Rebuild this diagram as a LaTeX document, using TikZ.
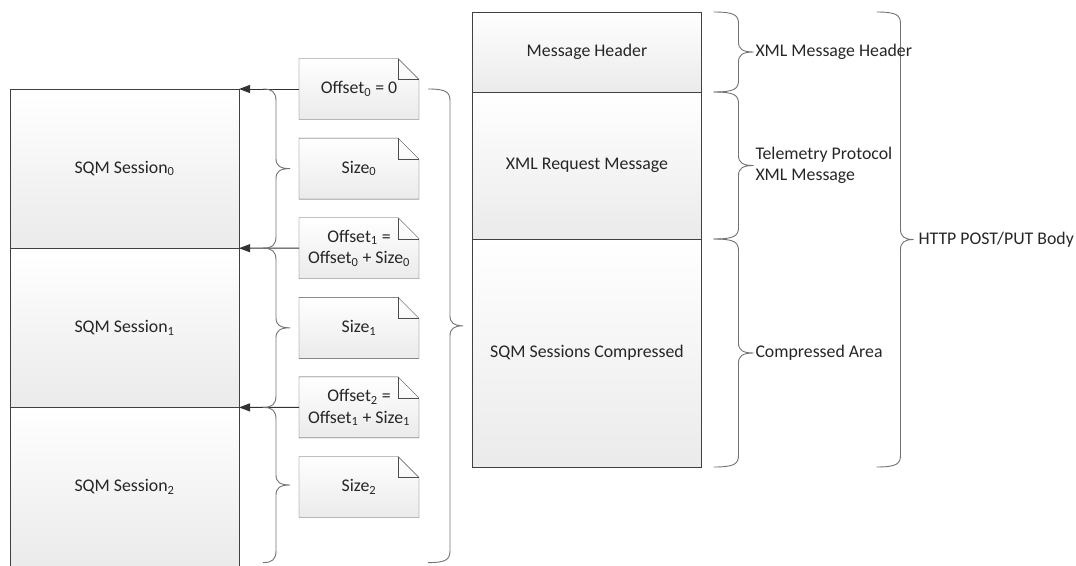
\documentclass[tikz,border=0pt]{standalone}
\usepackage{fontspec}
\setmainfont{Carlito}
\usepackage{tikz}
\usetikzlibrary{positioning,calc,arrows.meta,backgrounds}

% curly brace: top end, bottom end, body offset, tip offset, tip name
\newcommand{\curly}[5]{%
  \draw[brc] let \p1=#1, \p2=#2 in
    (\x1,\y1) .. controls ({\x1+#3-4pt},\y1) and ({\x1+#3},{\y1-3pt}) .. ({\x1+#3},{\y1-12pt})
    -- ({\x1+#3},{0.5*(\y1+\y2)+10pt}) .. controls ({\x1+#3},{0.5*(\y1+\y2)+3pt}) and ({\x1+#3+4pt},{0.5*(\y1+\y2)}) .. ({\x1+#3+#4},{0.5*(\y1+\y2)}) coordinate (#5)
    .. controls ({\x1+#3+4pt},{0.5*(\y1+\y2)}) and ({\x1+#3},{0.5*(\y1+\y2)-3pt}) .. ({\x1+#3},{0.5*(\y1+\y2)-10pt})
    -- ({\x1+#3},{\y2+12pt}) .. controls ({\x1+#3},{\y2+3pt}) and ({\x1+#3-4pt},\y2) .. (\x1,\y2);}

\begin{document}
\begin{tikzpicture}[x=1pt, y=-1pt, line width=1pt,
    every node/.style={font=\fontsize{17.8}{21.5}\selectfont, text=black!85, outer sep=0pt},
    block/.style={draw=black!75, top color=white, bottom color=black!8, minimum width=229pt, align=center},
    sqmbox/.style={block, minimum height=159.2pt},
    notebox/.style={minimum width=120pt, minimum height=61pt, align=center},
    notefill/.style={draw=black!70, top color=white, bottom color=black!8},
    brc/.style={draw=black!55, line width=0.9pt},
    arr/.style={draw=black!80, -{Triangle[length=11pt,width=8pt]}},
    lbl/.style={anchor=west, align=left, inner sep=2pt}]

  \useasboundingbox (0,0) rectangle (1076,565);
  \clip (0,0) rectangle (1076,565);

  % Sessions
  \node[sqmbox] (s0) at (124.5,168.6) {SQM Session\textsubscript{0}};
  \node[sqmbox, below=0pt of s0] (s1) {SQM Session\textsubscript{1}};
  \node[sqmbox, below=0pt of s1] (s2) {SQM Session\textsubscript{2}};

  % Offsets and sizes
  \node[notebox] (off0) at (359,89) {Offset\textsubscript{0} = 0};
  \node[notebox, below=18.6pt of off0] (sz0) {Size\textsubscript{0}};
  \node[notebox, below=18.6pt of sz0] (off1) {Offset\textsubscript{1} =\\Offset\textsubscript{0} + Size\textsubscript{0}};
  \node[notebox, below=18.6pt of off1] (sz1) {Size\textsubscript{1}};
  \node[notebox, below=18.6pt of sz1] (off2) {Offset\textsubscript{2} =\\Offset\textsubscript{1} + Size\textsubscript{1}};
  \node[notebox, below=18.6pt of off2] (sz2) {Size\textsubscript{2}};

  \begin{scope}[on background layer]
    \foreach \n in {off0,sz0,off1,sz1,off2,sz2} {
      \draw[notefill] (\n.north west) -- ([xshift=-21pt]\n.north east) -- ([yshift=-21pt]\n.north east)
        -- (\n.south east) -- (\n.south west) -- cycle;
      \draw[draw=black!70] ([xshift=-21pt]\n.north east) -- ([xshift=-21pt,yshift=-21pt]\n.north east)
        -- ([yshift=-21pt]\n.north east);
    }
  \end{scope}

  % Request body
  \node[block, minimum height=80pt] (hdr) at (587,52) {Message Header};
  \node[block, minimum height=147pt, below=0pt of hdr] (req) {XML Request Message};
  \node[block, minimum height=228pt, below=0pt of req] (cmp) {SQM Sessions Compressed};

  % Offsets point at session starts
  \draw[arr] (off0.west) -- (s0.north east);
  \draw[arr] (off1.west) -- (s0.south east);
  \draw[arr] (off2.west) -- (s1.south east);

  % Braces
  \curly{($(s0.north east)+(24,0)$)}{($(s0.south east)+(24,0)$)}{13pt}{14pt}{t0}
  \curly{($(s1.north east)+(24,0)$)}{($(s1.south east)+(24,0)$)}{13pt}{14pt}{t1}
  \curly{($(s2.north east)+(24,0)$)}{($(s2.south east)+(24,-4)$)}{13pt}{14pt}{t2}
  \curly{($(off0.east)+(9,0)$)}{($(off0.east |- s2.south)+(9,-4)$)}{22pt}{13pt}{tall}
  \curly{($(hdr.north east)+(12,0)$)}{($(hdr.south east)+(12,0)$)}{25pt}{15pt}{thdr}
  \curly{($(req.north east)+(12,0)$)}{($(req.south east)+(12,0)$)}{25pt}{15pt}{treq}
  \curly{($(cmp.north east)+(12,0)$)}{($(cmp.south east)+(12,0)$)}{25pt}{15pt}{tcmp}
  \curly{($(hdr.north east)+(175,0)$)}{($(cmp.south east)+(175,0)$)}{24pt}{13pt}{tbody}

  \node[lbl] (xmlhdr) at (thdr) {XML Message Header};
  \node[lbl] (telem) at (treq) {Telemetry Protocol\\XML Message};
  \node[lbl] (carea) at (tcmp) {Compressed Area};
  \node[lbl, inner sep=5pt] (body) at (tbody) {HTTP POST/PUT Body};

\end{tikzpicture}
\end{document}
